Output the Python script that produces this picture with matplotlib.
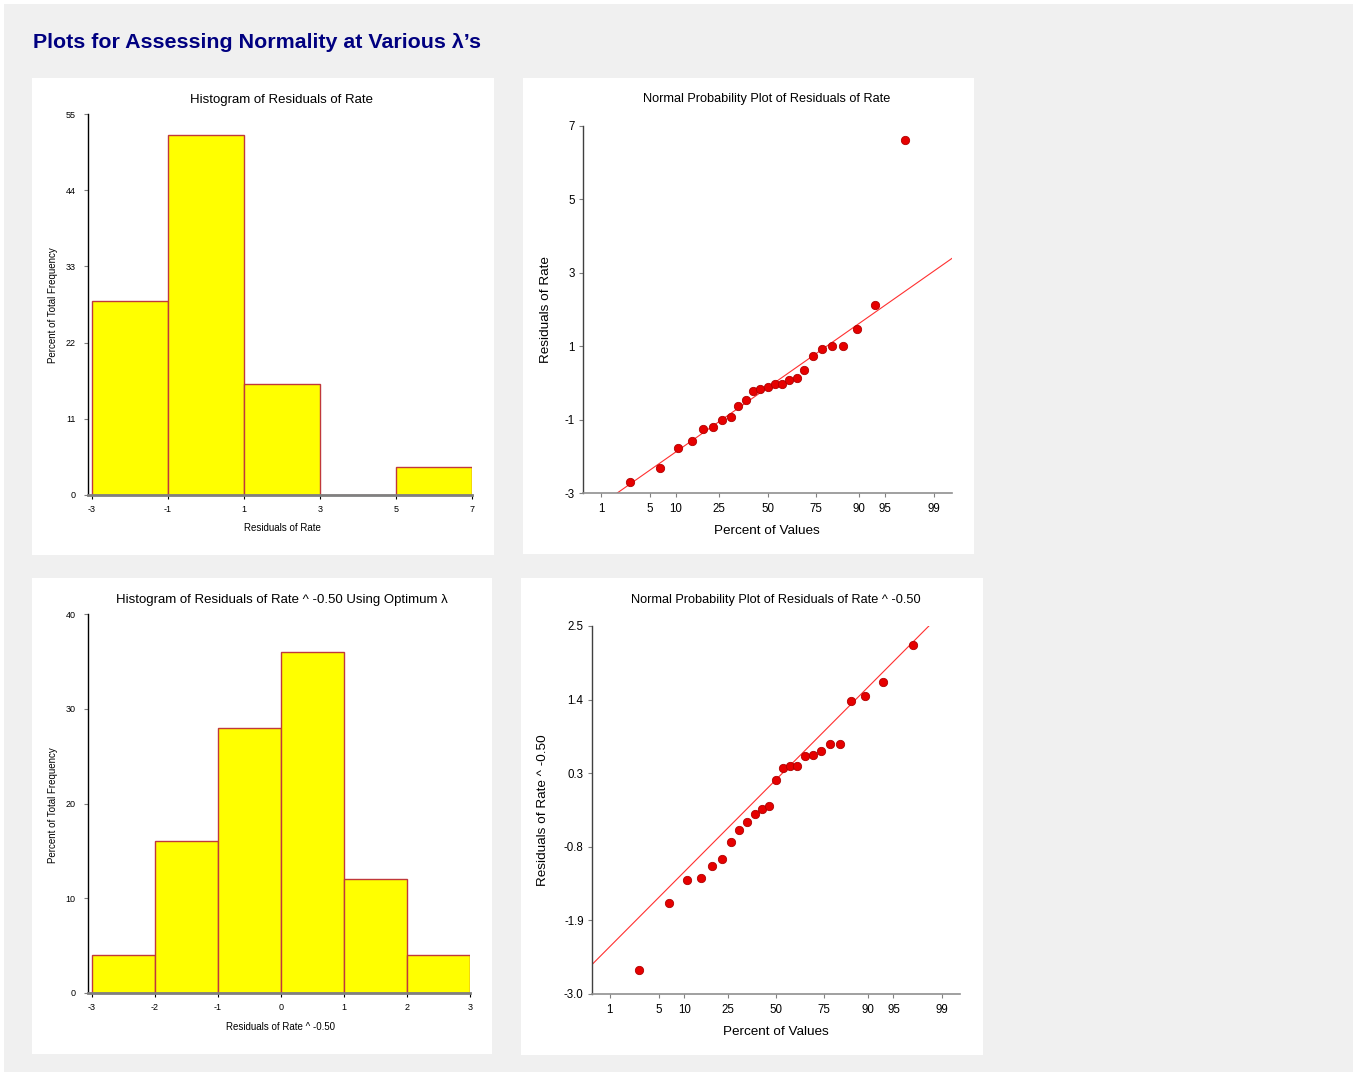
import matplotlib
matplotlib.use("Agg")
import matplotlib.pyplot as plt
from matplotlib.patches import Rectangle
from statistics import NormalDist

plt.rcParams['font.family'] = ['Liberation Sans', 'DejaVu Sans']

# ---------------- data ----------------
hist1_edges = [-3, -1, 1, 3, 5, 7]
hist1_pct = [28, 52, 16, 0, 4]
hist1_yticks = [0, 11, 22, 33, 44, 55]

hist2_edges = [-3, -2, -1, 0, 1, 2, 3]
hist2_pct = [4, 16, 28, 36, 12, 4]
hist2_yticks = [0, 10, 20, 30, 40]

# sorted residuals (normal probability plots)
resid_rate = [-2.71, -2.33, -1.785, -1.57, -1.26, -1.19, -1.01, -0.92, -0.63,
              -0.46, -0.23, -0.16, -0.11, -0.035, -0.035, 0.08, 0.12, 0.355,
              0.72, 0.93, 1.01, 1.01, 1.48, 2.12, 6.61]
resid_trans = [-2.637, -1.646, -1.293, -1.263, -1.084, -0.984, -0.725, -0.551,
               -0.432, -0.317, -0.238, -0.188, 0.195, 0.375, 0.404, 0.409,
               0.559, 0.579, 0.628, 0.733, 0.738, 1.375, 1.455, 1.659, 2.221]
# reference lines (intercept, slope in z units)
line1 = (-0.13, 1.368)
line2 = (0.204, 1.073)

pct_ticks = [1, 5, 10, 25, 50, 75, 90, 95, 99]
prob1_yticks = [-3, -1, 1, 3, 5, 7]
prob2_yticks = [-3.0, -1.9, -0.8, 0.3, 1.4, 2.5]

# ---------------- layout ----------------
W, H = 1353, 1072
fig = plt.figure(figsize=(W / 100, H / 100), dpi=100)
fig.patch.set_facecolor('white')
BG = '#f0f0f0'


def frect(l, t, r, b, color):
    fig.patches.append(Rectangle((l / W, 1 - b / H), (r - l) / W, (b - t) / H,
                                 transform=fig.transFigure, facecolor=color,
                                 edgecolor='none', zorder=-10))


def px_axes(l, t, r, b):
    ax = fig.add_axes([l / W, 1 - b / H, (r - l) / W, (b - t) / H])
    ax.set_facecolor('none')
    return ax


def ftext(x, y, s, **kw):
    fig.text(x / W, 1 - y / H, s, **kw)


frect(4, 4, W, H, BG)
frect(32, 78, 494, 555, 'white')
frect(523, 78, 974, 554, 'white')
frect(32, 578, 492, 1054, 'white')
frect(521, 578, 983, 1055, 'white')

ftext(33, 42, "Plots for Assessing Normality at Various \u03bb\u2019s",
      fontsize=15.4, fontweight='bold', color='#000080', ha='left', va='center')

BAR_FACE = '#ffff00'
BAR_EDGE = '#c0393b'
DOT = '#e60000'


def style_hist(ax):
    for s in ['top', 'right']:
        ax.spines[s].set_visible(False)
    ax.spines['left'].set_color('#000000')
    ax.spines['left'].set_linewidth(1.0)
    ax.spines['bottom'].set_color('#808080')
    ax.spines['bottom'].set_linewidth(2.0)
    ax.spines['bottom'].set_zorder(5)
    ax.tick_params(axis='both', direction='out', length=3, width=0.8,
                   labelsize=6.5, colors='#000000')
    ax.tick_params(axis='y', color='#808080', pad=6)
    ax.tick_params(axis='x', pad=4)


def style_prob(ax):
    for s in ['top', 'right']:
        ax.spines[s].set_visible(False)
    ax.spines['left'].set_color('#404040')
    ax.spines['bottom'].set_color('#909090')
    ax.spines['left'].set_linewidth(1.0)
    ax.spines['bottom'].set_linewidth(1.2)
    ax.tick_params(axis='both', direction='out', length=3, width=0.8,
                   labelsize=8.3, colors='#000000', pad=3)
    ax.tick_params(axis='y', color='#808080')
    ax.tick_params(axis='x', color='#808080', pad=4)


def draw_hist(ax, edges, pct, yticks, xlim):
    widths = [edges[i + 1] - edges[i] for i in range(len(pct))]
    ax.bar(edges[:-1], pct, width=widths, align='edge', color=BAR_FACE,
           edgecolor=BAR_EDGE, linewidth=1.0, zorder=2)
    ax.set_xlim(*xlim)
    ax.set_ylim(yticks[0], yticks[-1])
    ax.set_xticks(edges)
    ax.set_xticklabels([str(e) for e in edges])
    ax.set_yticks(yticks)
    ax.set_yticklabels([str(v) for v in yticks])
    style_hist(ax)


nd = NormalDist()


def draw_prob(ax, resid, line, yticks, ylabels):
    n = len(resid)
    # median-rank plotting positions
    z = [nd.inv_cdf((i + 1 - 0.3) / (n + 0.4)) for i in range(n)]
    zl = nd.inv_cdf(0.995)
    ax.set_xlim(-zl, zl)
    ax.set_ylim(yticks[0], yticks[-1])
    ax.axline((0, line[0]), slope=line[1], color='#ff3030', lw=0.8, zorder=2)
    ax.plot(z, resid, 'o', ms=6, mfc=DOT, mec='#b00000', mew=0.6, zorder=3,
            clip_on=False)
    ax.set_xticks([nd.inv_cdf(p / 100) for p in pct_ticks])
    ax.set_xticklabels([str(p) for p in pct_ticks])
    ax.set_yticks(yticks)
    ax.set_yticklabels(ylabels)
    style_prob(ax)


# top-left histogram
ax1 = px_axes(88, 114, 472, 495)
draw_hist(ax1, hist1_edges, hist1_pct, hist1_yticks, (-3.1, 7))
ftext(282, 100, "Histogram of Residuals of Rate", fontsize=9.5, ha='center', va='center')
ftext(282, 528, "Residuals of Rate", fontsize=7, ha='center', va='center')
ftext(53, 305, "Percent of Total Frequency", fontsize=7, ha='center', va='center', rotation=90)

# bottom-left histogram
ax3 = px_axes(88, 614, 470, 993)
draw_hist(ax3, hist2_edges, hist2_pct, hist2_yticks, (-3.06, 3))
ftext(282, 600, "Histogram of Residuals of Rate ^ -0.50 Using Optimum \u03bb",
      fontsize=9.5, ha='center', va='center')
ftext(281, 1027, "Residuals of Rate ^ -0.50", fontsize=7, ha='center', va='center')
ftext(53, 805, "Percent of Total Frequency", fontsize=7, ha='center', va='center', rotation=90)

# top-right normal probability plot
ax2 = px_axes(583, 126, 952, 493)
draw_prob(ax2, resid_rate, line1, prob1_yticks, [str(v) for v in prob1_yticks])
ftext(767, 99, "Normal Probability Plot of Residuals of Rate", fontsize=9.2,
      ha='center', va='center')
ftext(767, 531, "Percent of Values", fontsize=9.7, ha='center', va='center')
ftext(546, 310, "Residuals of Rate", fontsize=9.7, ha='center', va='center', rotation=90)

# bottom-right normal probability plot
ax4 = px_axes(592, 626, 960, 994)
draw_prob(ax4, resid_trans, line2, prob2_yticks, ['%.1f' % v for v in prob2_yticks])
ftext(776, 600, "Normal Probability Plot of Residuals of Rate ^ -0.50", fontsize=9.2,
      ha='center', va='center')
ftext(776, 1032, "Percent of Values", fontsize=9.7, ha='center', va='center')
ftext(543, 810, "Residuals of Rate ^ -0.50", fontsize=9.7, ha='center', va='center',
      rotation=90)

fig.savefig('out.png', dpi=100, facecolor=fig.get_facecolor())
